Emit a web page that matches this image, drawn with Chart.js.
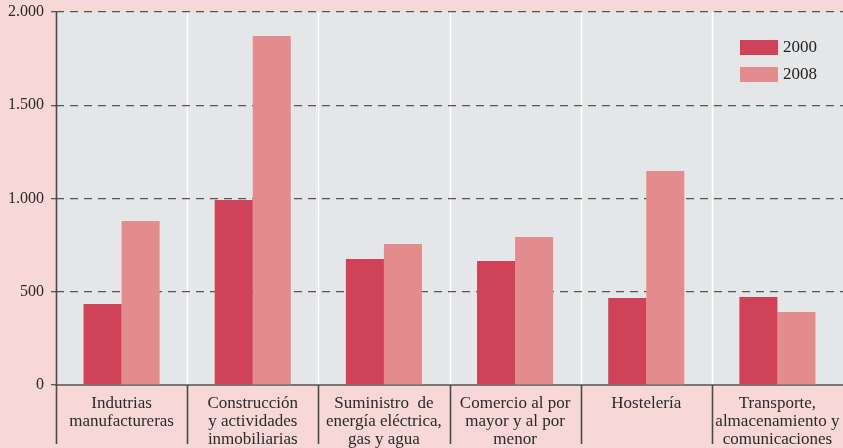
<!DOCTYPE html>
<html>
<head>
<meta charset="utf-8">
<script src="https://cdn.jsdelivr.net/npm/chart.js@4"></script>
<style>
  html, body { margin: 0; padding: 0; background: #f7d8d7; }
  #wrap { width: 843px; height: 448px; }
</style>
</head>
<body>
<div id="wrap"><canvas id="sectorChart" width="843" height="448"></canvas></div>
<script>
const categories = [
  ["Indutrias", "manufactureras"],
  ["Construcción", "y actividades", "inmobiliarias"],
  ["Suministro  de", "energía eléctrica,", "gas y agua"],
  ["Comercio al por", "mayor y al por", "menor"],
  ["Hostelería"],
  ["Transporte,", "almacenamiento y", "comunicaciones"]
];
const seriesNames = ["2000", "2008"];
const values2000 = [434, 992, 676, 665, 466, 472];
const values2008 = [879, 1871, 756, 794, 1147, 391];
const yTicks = [0, 500, 1000, 1500, 2000];

const PINK = "#f7d8d7";
const PLOT = "#e5e6e8";
const C2000 = "#cf4257";
const C2008 = "#e38c8e";
const SERIF = "'Liberation Serif', 'DejaVu Serif', serif";

function formatThousands(v) {
  return String(v).replace(/\B(?=(\d{3})+(?!\d))/g, ".");
}

// background, plot area, category separators and legend
const decorPlugin = {
  id: "decor",
  beforeDraw(chart) {
    const { ctx, chartArea: a } = chart;
    ctx.save();
    ctx.fillStyle = PINK;
    ctx.fillRect(0, 0, chart.width, chart.height);
    ctx.fillStyle = PLOT;
    ctx.fillRect(a.left, a.top, a.right - a.left, a.bottom - a.top);

    const step = (a.right - a.left) / categories.length;
    ctx.strokeStyle = "#ffffff";
    ctx.lineWidth = 1.5;
    for (let i = 1; i < categories.length; i++) {
      const px = Math.round(a.left + step * i) + 0.5;
      ctx.beginPath();
      ctx.moveTo(px, a.top);
      ctx.lineTo(px, a.bottom);
      ctx.stroke();
    }
    ctx.restore();
  },
  afterDraw(chart) {
    const { ctx, chartArea: a } = chart;
    const step = (a.right - a.left) / categories.length;
    ctx.save();
    ctx.strokeStyle = "#4a4a4a";
    ctx.lineWidth = 1.6;
    for (let i = 0; i < categories.length; i++) {
      const px = Math.round(a.left + step * i) + 0.5;
      ctx.beginPath();
      ctx.moveTo(px, a.top);
      if (i > 0) ctx.moveTo(px, a.bottom);
      ctx.lineTo(px, 444);
      ctx.stroke();
    }

    // legend inside the plot, top right
    const colors = [C2000, C2008];
    ctx.font = "17px " + SERIF;
    ctx.textBaseline = "middle";
    ctx.textAlign = "left";
    seriesNames.forEach((name, i) => {
      const y = 40 + i * 27;
      ctx.fillStyle = colors[i];
      ctx.fillRect(740, y, 38, 15);
      ctx.fillStyle = "#222222";
      ctx.fillText(name, 783, y + 8);
    });
    ctx.restore();
  }
};

const ctx = document.getElementById("sectorChart").getContext("2d");
new Chart(ctx, {
  type: "bar",
  data: {
    labels: categories,
    datasets: [
      {
        label: seriesNames[0],
        data: values2000,
        backgroundColor: C2000,
        borderWidth: 0,
        categoryPercentage: 0.58,
        barPercentage: 1.0
      },
      {
        label: seriesNames[1],
        data: values2008,
        backgroundColor: C2008,
        borderWidth: 0,
        categoryPercentage: 0.58,
        barPercentage: 1.0
      }
    ]
  },
  options: {
    responsive: false,
    animation: false,
    layout: { padding: { top: 12, right: 0, left: 0, bottom: 0 } },
    plugins: {
      legend: { display: false },
      tooltip: { enabled: false }
    },
    scales: {
      x: {
        grid: { display: false },
        border: { display: true, color: "#777777", width: 2 },
        ticks: {
          color: "#2a2a2a",
          font: { family: SERIF, size: 17, lineHeight: 1.08 },
          padding: 1,
          maxRotation: 0,
          autoSkip: false
        },
        afterFit(scale) { scale.height = 63; }
      },
      y: {
        min: 0,
        max: 2000,
        afterBuildTicks(scale) {
          scale.ticks = yTicks.map((v) => ({ value: v }));
        },
        grid: {
          color: "#555555",
          lineWidth: 1.3,
          tickLength: 5,
          tickColor: "#555555",
          tickBorderDash: []
        },
        border: { display: false, dash: [8, 6] },
        ticks: {
          color: "#2a2a2a",
          font: { family: SERIF, size: 16, lineHeight: 1 },
          padding: 7,
          callback: (v) => formatThousands(v)
        },
        afterFit(scale) {
          scale.width = 56;
          scale.paddingTop = 0;
        }
      }
    }
  },
  plugins: [decorPlugin]
});
</script>
</body>
</html>
